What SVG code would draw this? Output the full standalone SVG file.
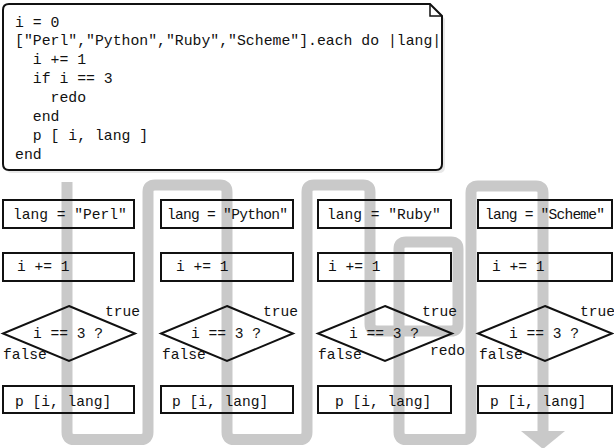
<svg xmlns="http://www.w3.org/2000/svg" width="614" height="448" viewBox="0 0 614 448">
<style>
text{font-family:"Liberation Mono","Courier New",monospace;font-size:14.6px;fill:#111}
.code{font-size:14.8px}
.box{fill:none;stroke:#111;stroke-width:2}
.flow{fill:none;stroke:#c9c9c9;stroke-width:11}
</style>
<rect width="614" height="448" fill="#fff"/>
<g id="code">
<path d="M9,7 H433 L445,19 V167 Q445,173 439,173 H12 Q6,173 6,167 Z" fill="#d8d8d8" opacity="0.6"/>
<path d="M9,4 H430 L442,16 V164 Q442,170 436,170 H9 Q3,170 3,164 V10 Q3,4 9,4 Z" fill="#fff" stroke="#111" stroke-width="2"/>
<path d="M430,4 V16 H442" fill="none" stroke="#111" stroke-width="1.5"/>
<text class="code" x="15" y="26.5" xml:space="preserve">i = 0</text>
<text class="code" x="15" y="45.4" xml:space="preserve">["Perl","Python","Ruby","Scheme"].each do |lang|</text>
<text class="code" x="15" y="64.3" xml:space="preserve">  i += 1</text>
<text class="code" x="15" y="83.2" xml:space="preserve">  if i == 3</text>
<text class="code" x="15" y="102.1" xml:space="preserve">    redo</text>
<text class="code" x="15" y="121" xml:space="preserve">  end</text>
<text class="code" x="15" y="139.9" xml:space="preserve">  p [ i, lang ]</text>
<text class="code" x="15" y="158.8" xml:space="preserve">end</text>
</g>
<g id="connectors">
<path class="flow" d="M67,182 V432 Q67,439.5 74,439.5 H141 Q148,439.5 148,432 V192 Q148,185 155,185 H220 Q227,185 227,192 V432 Q227,439.5 234,439.5 H300 Q307,439.5 307,432 V192 Q307,185 314,185 H363 Q370,185 370,192 V324 Q370,331 377,331 H451 Q458,331 458,324 V249 Q458,242 451,242 H406 Q399,242 399,249 V432 Q399,439.5 406,439.5 H464 Q471,439.5 471,432 V193 Q471,186 478,186 H536 Q543,186 543,193 V432"/>
<polygon points="521,431 565,431 543,449" fill="#c9c9c9"/>
</g>
<g id="col1">
<rect class="box" x="3" y="200" width="131" height="28"/>
<text x="13" y="218.5" xml:space="preserve">lang = "Perl"</text>
<rect class="box" x="3" y="253" width="131" height="28"/>
<text x="17" y="271" xml:space="preserve">i += 1</text>
<polygon class="box" points="69,306 135,333.5 69,361 3,333.5"/>
<text x="33" y="338" xml:space="preserve">i == 3 ?</text>
<text x="105" y="315.5">true</text>
<text x="3" y="359">false</text>
<rect class="box" x="3" y="386" width="131" height="27"/>
<text x="15" y="405.5" xml:space="preserve">p [i, lang]</text>
</g>
<g id="col2">
<rect class="box" x="161" y="200" width="132" height="28"/>
<text x="167" y="218.5" textLength="121" lengthAdjust="spacing" xml:space="preserve">lang = "Python"</text>
<rect class="box" x="161" y="253" width="132" height="28"/>
<text x="176" y="271" xml:space="preserve">i += 1</text>
<polygon class="box" points="227,306 293,333.5 227,361 161,333.5"/>
<text x="191" y="338" xml:space="preserve">i == 3 ?</text>
<text x="263" y="315.5">true</text>
<text x="162" y="359">false</text>
<rect class="box" x="161" y="386" width="132" height="27"/>
<text x="172" y="405.5" xml:space="preserve">p [i, lang]</text>
</g>
<g id="col3">
<rect class="box" x="318" y="200" width="133" height="28"/>
<text x="327" y="218.5" xml:space="preserve">lang = "Ruby"</text>
<rect class="box" x="318" y="253" width="133" height="28"/>
<text x="328" y="271" xml:space="preserve">i += 1</text>
<polygon class="box" points="385,306 452,333.5 385,361 318,333.5"/>
<text x="349" y="338" xml:space="preserve">i == 3 ?</text>
<text x="422" y="315.5">true</text>
<text x="318" y="359">false</text>
<text x="430" y="355">redo</text>
<rect class="box" x="318" y="386" width="133" height="27"/>
<text x="335" y="405.5" xml:space="preserve">p [i, lang]</text>
</g>
<g id="col4">
<rect class="box" x="478" y="200" width="134" height="28"/>
<text x="485" y="218.5" textLength="120" lengthAdjust="spacing" xml:space="preserve">lang = "Scheme"</text>
<rect class="box" x="478" y="253" width="134" height="28"/>
<text x="492" y="271" xml:space="preserve">i += 1</text>
<polygon class="box" points="545,306 612,333.5 545,361 478,333.5"/>
<text x="509" y="338" xml:space="preserve">i == 3 ?</text>
<text x="580" y="315.5">true</text>
<text x="479" y="359">false</text>
<rect class="box" x="478" y="386" width="134" height="27"/>
<text x="490" y="405.5" xml:space="preserve">p [i, lang]</text>
</g>
</svg>
